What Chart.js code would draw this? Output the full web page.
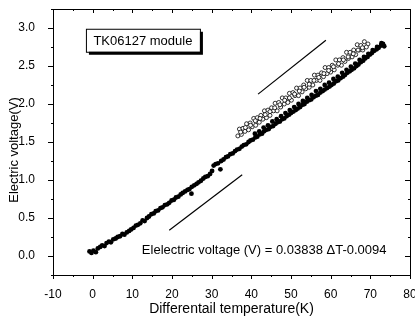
<!DOCTYPE html>
<html>
<head>
<meta charset="utf-8">
<script src="https://cdn.jsdelivr.net/npm/chart.js@4.4.1/dist/chart.umd.min.js"></script>
<style>
html, body { margin: 0; padding: 0; background: #fff; overflow: hidden; }
</style>
</head>
<body>
<canvas id="chart" width="415" height="320"></canvas>
<script>
// filled dots (heating run)
var solidT = [-0.8,-0.3,0.2,0.8,1.3,1.9,2.4,3.0,3.5,4.1,
    4.6,5.2,5.8,6.3,6.9,7.5,8.0,8.6,9.2,9.7,
    10.3,10.9,11.4,12.0,12.6,13.1,13.7,14.2,14.8,15.4,
    15.9,16.5,17.1,17.6,18.2,18.8,19.3,19.9,20.5,21.0,
    21.6,22.2,22.7,23.3,23.9,24.4,24.9,25.0,25.6,26.2,
    26.7,27.3,27.9,28.4,29.0,29.6,30.1,30.5,31.0,31.6,
    32.2,32.4,33.0,33.6,34.1,34.7,35.3,35.9,36.4,37.0,
    37.6,38.1,38.7,39.3,39.8,40.4,41.0,41.5,42.1,42.7,
    43.2,43.8,44.4,44.9,45.5,46.1,46.6,47.2,47.8,48.3,
    48.9,49.5,50.0,50.6,51.2,51.7,52.3,52.9,53.4,54.0,
    54.6,55.1,55.7,56.3,56.8,57.4,58.0,58.5,59.1,59.7,
    60.2,60.8,61.4,61.9,62.5,63.1,63.6,64.2,64.8,65.3,
    65.9,66.5,67.0,67.6,68.2,68.7,69.3,69.9,70.4,71.0,
    71.6,72.1,72.7,73.2];
var solidV = [0.06,0.04,0.07,0.05,0.10,0.12,0.14,0.13,0.17,0.19,
    0.18,0.22,0.23,0.25,0.26,0.29,0.28,0.31,0.33,0.35,
    0.37,0.40,0.41,0.43,0.47,0.46,0.50,0.52,0.55,0.56,
    0.59,0.60,0.63,0.64,0.67,0.68,0.70,0.73,0.74,0.77,
    0.78,0.81,0.83,0.85,0.87,0.88,0.82,0.91,0.93,0.95,
    0.97,0.99,1.02,1.04,1.05,1.08,1.12,1.19,1.21,1.22,
    1.14,1.25,1.27,1.30,1.31,1.34,1.35,1.38,1.40,1.41,
    1.44,1.46,1.47,1.50,1.52,1.53,1.56,1.57,1.60,1.61,
    1.64,1.66,1.67,1.70,1.71,1.74,1.76,1.77,1.80,1.81,
    1.84,1.86,1.88,1.90,1.92,1.94,1.96,1.99,2.00,2.03,
    2.05,2.06,2.09,2.11,2.12,2.15,2.17,2.19,2.21,2.23,
    2.25,2.27,2.30,2.31,2.34,2.36,2.38,2.41,2.43,2.45,
    2.47,2.50,2.52,2.55,2.57,2.60,2.62,2.65,2.67,2.70,
    2.72,2.74,2.77,2.79];
var solidT2 = [40.9,42.0,43.1,44.2,45.3,46.4,47.5,48.6,49.7,50.8,
    51.9,53.0,54.1,55.2,56.3,57.4,58.5,59.6,60.7,61.8,
    62.9,64.0,65.1,66.2,67.3,68.4,69.5,70.6,71.7,72.8,73.5];
var solidV2 = [1.61,1.64,1.69,1.72,1.77,1.80,1.84,1.88,1.92,1.96,
    2.00,2.04,2.08,2.12,2.17,2.20,2.25,2.28,2.33,2.36,
    2.41,2.45,2.49,2.53,2.58,2.62,2.66,2.71,2.75,2.80,2.76];

// open circles (cooling run)
var openT = [37.0,37.9,38.8,39.7,40.6,41.5,42.4,43.3,44.2,45.1,
    46.0,46.9,47.8,48.7,49.6,50.5,51.4,52.3,53.2,54.1,
    55.0,55.9,56.8,57.7,58.6,59.5,60.4,61.3,62.2,63.1,
    64.0,64.9,65.8,66.7,67.6,68.5,69.4];
var openV = [1.67,1.68,1.74,1.75,1.81,1.82,1.85,1.91,1.92,1.95,
    2.01,2.02,2.08,2.08,2.14,2.15,2.21,2.21,2.25,2.31,
    2.31,2.38,2.38,2.41,2.48,2.48,2.51,2.58,2.58,2.61,
    2.68,2.68,2.71,2.78,2.77,2.82,2.79];
var openT2 = [36.6,37.5,38.4,39.3,40.2,41.1,42.0,42.9,43.8,44.7,
    45.6,46.5,47.4,48.3,49.2,50.1,51.0,51.9,52.8,53.7,
    54.6,55.5,56.4,57.3,58.2,59.1,60.0,60.9,61.8,62.7,
    63.6,64.5,65.4,66.3,67.2,68.1,69.0];
var openV2 = [1.58,1.60,1.64,1.66,1.70,1.72,1.76,1.80,1.82,1.85,
    1.91,1.91,1.96,2.00,2.02,2.05,2.11,2.11,2.16,2.20,
    2.22,2.25,2.31,2.31,2.36,2.40,2.42,2.45,2.51,2.51,
    2.56,2.60,2.62,2.65,2.71,2.71,2.75];
var openT3 = [37.3,38.5,39.8,41.0,42.2,43.5,44.7,45.9,47.2,48.4,
    49.6,50.9,52.1,53.3,54.6,55.8,57.0,58.3,59.5,60.7,
    62.0,63.2,64.4,65.7,66.9,68.0];
var openV3 = [1.63,1.69,1.72,1.78,1.81,1.86,1.90,1.95,1.99,2.05,
    2.08,2.13,2.17,2.22,2.26,2.31,2.35,2.40,2.44,2.49,
    2.53,2.58,2.62,2.66,2.71,2.74];

// direction guides
var upT = [19.3, 37.7], upV = [0.34, 1.07];
var downT = [41.7, 58.8], downV = [2.13, 2.84];

var boxLabel = 'TK06127 module';
var fitLabel = 'Elelectric voltage (V) = 0.03838 \u0394T-0.0094';
var yTitle = 'Electric voltage(V)';

function pts(t, v) {
    return t.map(function(x, i) { return { x: x, y: v[i] }; });
}

var FONT = '"Liberation Sans", Arial, sans-serif';

// frame, mirrored ticks and text annotations
var decor = {
    id: 'decor',
    afterDraw: function(chart) {
        var ctx = chart.ctx, a = chart.chartArea;
        var sx = chart.scales.x, sy = chart.scales.y;
        ctx.save();
        ctx.strokeStyle = '#000';
        ctx.lineWidth = 1;
        ctx.strokeRect(a.left + 0.5, a.top + 0.5, a.right - a.left, a.bottom - a.top);
        ctx.beginPath();
        sx.ticks.forEach(function(t) {
            var p = Math.round(sx.getPixelForValue(t.value)) + 0.5;
            var len = (t.value % 10 === 0) ? 4 : 2;
            ctx.moveTo(p, a.bottom); ctx.lineTo(p, a.bottom + len);
            ctx.moveTo(p, a.top); ctx.lineTo(p, a.top + len);
        });
        sy.ticks.forEach(function(t) {
            var p = Math.round(sy.getPixelForValue(t.value)) + 0.5;
            var major = Math.abs(t.value * 2 - Math.round(t.value * 2)) < 1e-6;
            var len = major ? 5 : 2;
            ctx.moveTo(a.left, p); ctx.lineTo(a.left - len, p);
            ctx.moveTo(a.right, p); ctx.lineTo(a.right - len, p);
        });
        ctx.stroke();

        // label box with shadow
        var bx = sx.getPixelForValue(-1.7), by = sy.getPixelForValue(2.99);
        var bw = 114, bh = 23;
        ctx.fillStyle = '#000';
        ctx.fillRect(bx + 3, by + 3, bw, bh);
        ctx.fillStyle = '#fff';
        ctx.fillRect(bx, by, bw, bh);
        ctx.strokeRect(bx + 0.5, by + 0.5, bw, bh);
        ctx.fillStyle = '#000';
        ctx.font = '13px ' + FONT;
        ctx.textAlign = 'center';
        ctx.textBaseline = 'middle';
        ctx.fillText(boxLabel, bx + bw / 2, by + bh / 2 + 1);

        ctx.textAlign = 'left';
        ctx.font = '13px ' + FONT;
        ctx.fillText(fitLabel, sx.getPixelForValue(12.4), sy.getPixelForValue(0.07));

        // y axis title, sits a little below the middle
        ctx.translate(14, (a.top + a.bottom) / 2 + 8);
        ctx.rotate(-Math.PI / 2);
        ctx.textAlign = 'center';
        ctx.font = '13px ' + FONT;
        ctx.fillText(yTitle, 0, 0);
        ctx.restore();
    }
};

var ctx = document.getElementById('chart').getContext('2d');
var chart = new Chart(ctx, {
    type: 'scatter',
    data: {
        datasets: [{
            label: 'cooling',
            data: pts(openT, openV).concat(pts(openT2, openV2), pts(openT3, openV3)),
            pointRadius: 2,
            pointBorderWidth: 0.8,
            pointBorderColor: '#000',
            pointBackgroundColor: '#fff'
        }, {
            label: 'heating',
            data: pts(solidT, solidV).concat(pts(solidT2, solidV2)),
            pointRadius: 2.4,
            pointBorderWidth: 0,
            pointBackgroundColor: '#000'
        }, {
            label: 'up',
            data: pts(upT, upV),
            showLine: true,
            borderColor: '#000',
            borderWidth: 1.2,
            pointRadius: 0
        }, {
            label: 'down',
            data: pts(downT, downV),
            showLine: true,
            borderColor: '#000',
            borderWidth: 1.2,
            pointRadius: 0
        }]
    },
    options: {
        responsive: false,
        animation: false,
        layout: { padding: { top: 9, left: 0, bottom: 0, right: 5 } },
        plugins: {
            legend: { display: false },
            tooltip: { enabled: false }
        },
        scales: {
            x: {
                type: 'linear',
                min: -10,
                max: 80,
                grid: { display: false },
                border: { display: false },
                afterFit: function(s) {
                    s.height = 45;
                    s.paddingLeft = 0;
                    s.paddingRight = 0;
                },
                ticks: {
                    stepSize: 5,
                    padding: 4,
                    color: '#000',
                    maxRotation: 0,
                    autoSkip: false,
                    font: { family: FONT, size: 12 },
                    callback: function(v) { return v % 10 === 0 ? String(v) : ''; }
                },
                title: {
                    display: true,
                    text: 'Differentail temperature(K)',
                    color: '#000',
                    font: { family: FONT, size: 14 },
                    padding: { top: 0, bottom: 2 }
                }
            },
            y: {
                type: 'linear',
                min: -0.25,
                max: 3.25,
                grid: { display: false },
                border: { display: false },
                afterFit: function(s) {
                    s.width = 53;
                    s.paddingTop = 0;
                    s.paddingBottom = 0;
                },
                ticks: {
                    stepSize: 0.25,
                    padding: 10,
                    color: '#000',
                    autoSkip: false,
                    font: { family: FONT, size: 12 },
                    callback: function(v) {
                        return Math.abs(v * 2 - Math.round(v * 2)) < 1e-6 ? v.toFixed(1) : '';
                    }
                }
            }
        }
    },
    plugins: [decor]
});
</script>
</body>
</html>
